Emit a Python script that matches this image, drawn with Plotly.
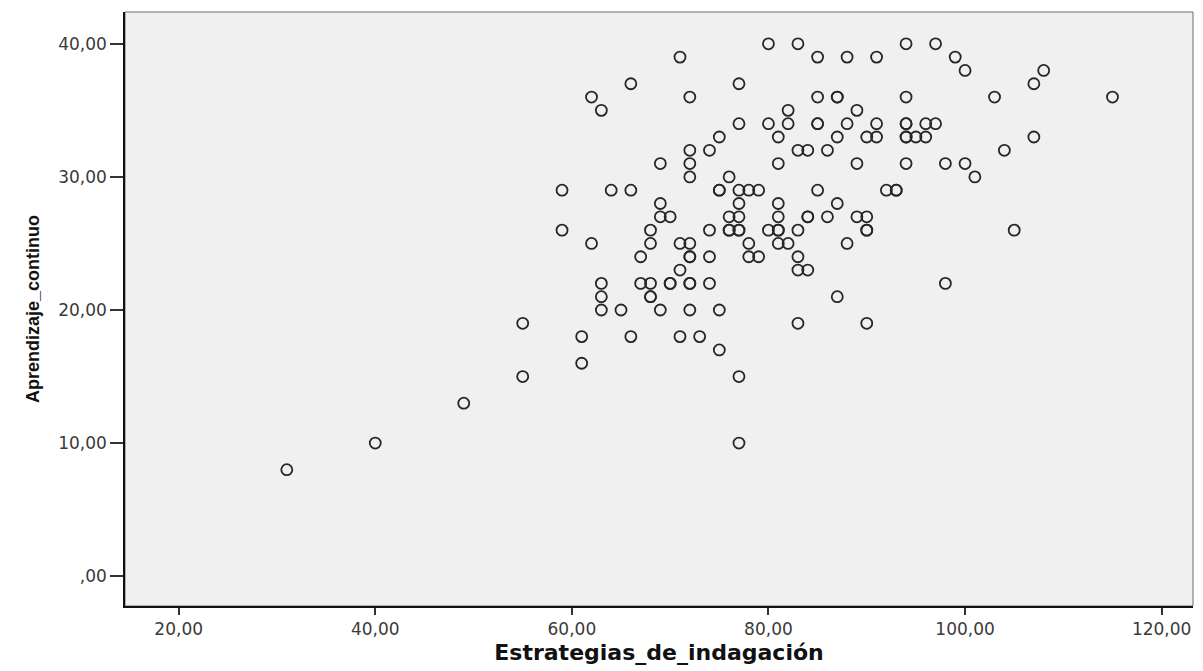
import plotly.graph_objects as go

# Points grouped by y value (Aprendizaje_continuo): list of x values (Estrategias_de_indagación)
rows = {
    40: [80, 83, 94, 97],
    39: [71, 85, 88, 91, 99],
    38: [100, 108],
    37: [66, 77, 107],
    36: [62, 72, 85, 87, 87, 94, 103, 115],
    35: [63, 82, 89],
    34: [77, 80, 82, 85, 85, 88, 91, 94, 94, 96, 97],
    33: [75, 81, 87, 90, 91, 94, 94, 95, 96, 107],
    32: [72, 74, 83, 84, 86, 104],
    31: [69, 72, 81, 89, 94, 98, 100],
    30: [72, 76, 101],
    29: [59, 64, 66, 75, 75, 77, 78, 79, 85, 92, 93, 93],
    28: [69, 77, 81, 87],
    27: [69, 70, 76, 77, 81, 84, 84, 86, 89, 90],
    26: [59, 68, 74, 76, 76, 77, 77, 80, 81, 81, 83, 90, 90, 105],
    25: [62, 68, 71, 72, 78, 81, 82, 88],
    24: [67, 72, 72, 74, 78, 79, 83],
    23: [71, 83, 84],
    22: [63, 67, 68, 70, 70, 72, 72, 74, 98],
    21: [63, 68, 68, 87],
    20: [63, 65, 69, 72, 75],
    19: [55, 83, 90],
    18: [61, 66, 71, 73],
    17: [75],
    16: [61],
    15: [55, 77],
    13: [49],
    10: [40, 77],
    8: [31],
}

estrategias = [x for y, xs in rows.items() for x in xs]
aprendizaje = [y for y, xs in rows.items() for _ in xs]

x_tickvals = [20, 40, 60, 80, 100, 120]
x_ticktext = ["20,00", "40,00", "60,00", "80,00", "100,00", "120,00"]
y_tickvals = [0, 10, 20, 30, 40]
y_ticktext = [",00", "10,00", "20,00", "30,00", "40,00"]

fig = go.Figure()
fig.add_trace(go.Scatter(
    x=estrategias, y=aprendizaje, mode="markers",
    marker=dict(symbol="circle-open", size=11, color="#262626", line=dict(width=1.8)),
    showlegend=False, hoverinfo="x+y",
))

fig.add_shape(type="rect", xref="x domain", yref="y domain", x0=0, x1=1, y0=0, y1=1,
              line=dict(color="#6e6e6e", width=1), layer="below")

tick_font = dict(family="DejaVu Sans, Verdana, sans-serif", size=17, color="#3a3a3a")

fig.update_layout(
    width=1203, height=671,
    margin=dict(l=125, r=10, t=12, b=61),
    paper_bgcolor="white",
    plot_bgcolor="#f0f0f0",
    font=dict(family="Liberation Sans, Arial, sans-serif", size=13, color="#222"),
    xaxis=dict(
        range=[14.54, 123.19], tickvals=x_tickvals, ticktext=x_ticktext,
        showgrid=False, zeroline=False, ticks="outside", ticklen=7, tickwidth=1.5,
        tickcolor="#333", showline=True, linecolor="#111", linewidth=1.6,
        tickfont=tick_font,
        title=dict(text="<b>Estrategias_de_indagación</b>",
                   font=dict(family="DejaVu Sans, Verdana, sans-serif", size=22, color="#111"),
                   standoff=6),
    ),
    yaxis=dict(
        range=[-2.24, 42.39], tickvals=y_tickvals, ticktext=y_ticktext,
        showgrid=False, zeroline=False, ticks="outside", ticklen=13, tickwidth=1.5,
        tickcolor="#333", showline=True, linecolor="#111", linewidth=1.6,
        tickfont=tick_font,
        title=dict(text="<b>Aprendizaje_continuo</b>",
                   font=dict(family="Liberation Sans, Arial, sans-serif", size=18, color="#111"),
                   standoff=14),
    ),
)

fig.write_html("out.html")
